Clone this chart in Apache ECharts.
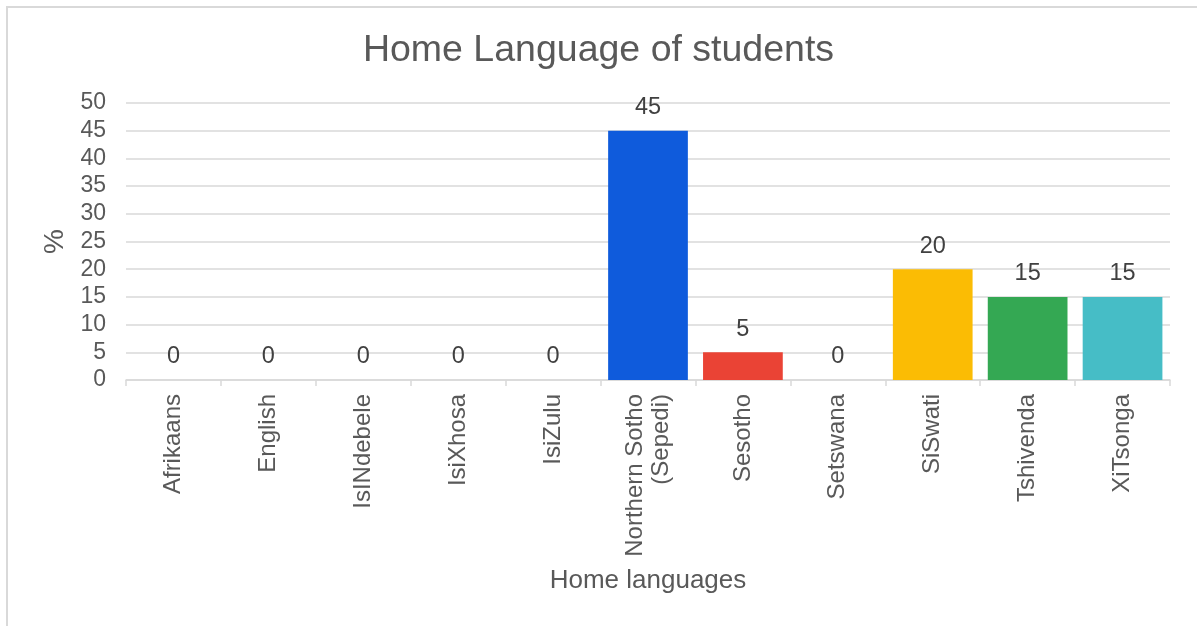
<!DOCTYPE html>
<html>
<head>
<meta charset="utf-8">
<script src="https://cdn.jsdelivr.net/npm/echarts@6/dist/echarts.min.js"></script>
<style>
html,body{margin:0;padding:0;background:#fff;}
#frame{position:absolute;left:6px;top:6px;width:1191px;height:620px;border-left:2px solid #d9d9d9;border-top:2px solid #d9d9d9;box-sizing:border-box;}
#c{position:absolute;left:0;top:0;width:1197px;height:626px;}
</style>
</head>
<body>
<div id="frame"></div>
<div id="c"></div>
<script>
const categories = ["Afrikaans","English","IsINdebele","IsiXhosa","IsiZulu","Northern Sotho\n(Sepedi)","Sesotho","Setswana","SiSwati","Tshivenda","XiTsonga"];
const values = [0,0,0,0,0,45,5,0,20,15,15];
const barColors = ["#1a5fdc","#1a5fdc","#1a5fdc","#1a5fdc","#1a5fdc","#0f5bdc","#ea4335","#1a5fdc","#fbbc04","#34a853","#46bdc6"];
const yTicks = {min:0, max:50, interval:5};

const chart = echarts.init(document.getElementById('c'), null, {renderer:'canvas'});
const font = "'Liberation Sans', Arial, sans-serif";
chart.setOption({
  animation:false,
  backgroundColor:'transparent',
  title:{text:'Home Language of students', left:'center', top:27,
    textStyle:{fontFamily:font, fontSize:37.5, fontWeight:'normal', color:'#595959'}},
  grid:{left:126, right:27, top:103, bottom:246, containLabel:false},
  xAxis:{type:'category', data:categories,
    axisLine:{lineStyle:{color:'#d9d9d9', width:1.5}},
    axisTick:{show:true, length:6, lineStyle:{color:'#d9d9d9', width:1.5}},
    axisLabel:{rotate:90, interval:0, margin:14, fontFamily:font, fontSize:24, color:'#595959', lineHeight:26},
    name:'Home languages', nameLocation:'middle', nameGap:188,
    nameTextStyle:{fontFamily:font, fontSize:26, color:'#595959'}},
  yAxis:{type:'value', min:yTicks.min, max:yTicks.max, interval:yTicks.interval,
    axisLine:{show:false}, axisTick:{show:false},
    splitLine:{lineStyle:{color:'#d9d9d9', width:1.5}},
    axisLabel:{fontFamily:font, fontSize:23, color:'#595959', margin:20},
    name:'%', nameLocation:'middle', nameGap:55, nameRotate:90,
    nameTextStyle:{fontFamily:font, fontSize:28, color:'#595959'}},
  series:[{type:'bar', barCategoryGap:'16%',
    data:values.map((v,i)=>({value:v, itemStyle:{color:barColors[i]}})),
    label:{show:true, position:'top', distance:11, fontFamily:font, fontSize:23.5, color:'#404040'}
  }]
});
</script>
</body>
</html>
